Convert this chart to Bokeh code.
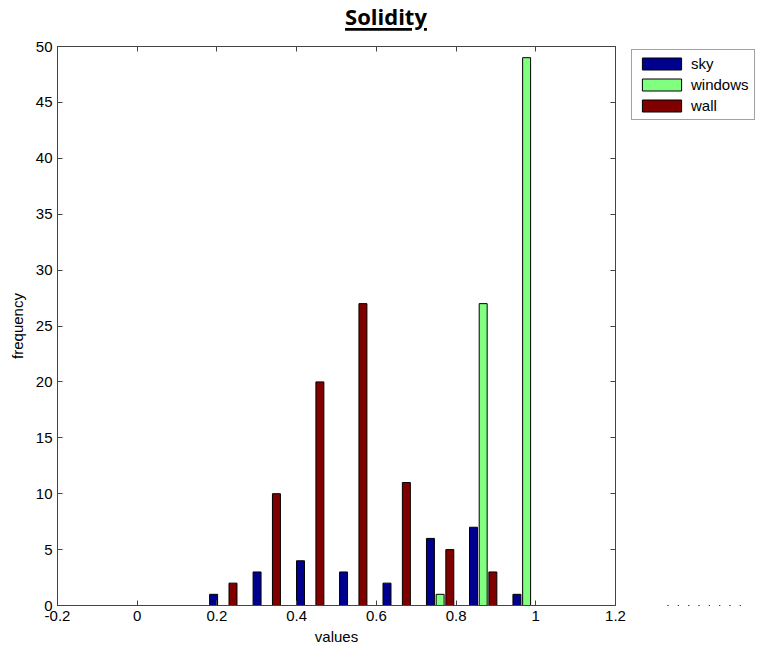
from bokeh.plotting import figure
from bokeh.models import (LinearAxis, FixedTicker, Legend, LegendItem, Div,
                          Range1d, ColumnDataSource)
from bokeh.layouts import column, row
from bokeh.transform import dodge
from bokeh.embed import file_html
from bokeh.resources import INLINE

# ---- data ----
bin_centers = [0.216, 0.325, 0.434, 0.542, 0.651, 0.760, 0.868, 0.977]
sky = [1, 3, 4, 3, 2, 6, 7, 1]
windows = [0, 0, 0, 0, 0, 1, 27, 49]
wall = [2, 10, 20, 27, 11, 5, 3, 0]
series_names = ["sky", "windows", "wall"]
x_ticks = [-0.2, 0, 0.2, 0.4, 0.6, 0.8, 1, 1.2]
x_tick_labels = ["-0.2", "0", "0.2", "0.4", "0.6", "0.8", "1", "1.2"]
y_ticks = [0, 5, 10, 15, 20, 25, 30, 35, 40, 45, 50]
title_text = "Solidity"

colors = ["#00008F", "#80FF80", "#800000"]
offsets = [-0.0243, 0.0, 0.0243]
bar_w = 0.02
AX = "#444444"
FONT = "Liberation Sans"

src = ColumnDataSource(dict(x=bin_centers, sky=sky, windows=windows, wall=wall))

header = Div(text=('<span style="text-decoration: underline; text-decoration-thickness: 2.5px; '
                   'text-underline-offset: 3px;">' + title_text + '</span>'),
             width=761, height=30, margin=0,
             styles={"font-family": "Open Sans", "font-weight": "bold", "font-size": "22px",
                     "color": "black", "text-align": "center", "width": "761px",
                     "padding-left": "11px", "box-sizing": "border-box",
                     "line-height": "22px", "padding-top": "5px"})

p = figure(frame_width=558, frame_height=559, x_range=Range1d(-0.2, 1.2), y_range=Range1d(0, 50),
           output_backend="svg", toolbar_location=None,
           min_border_left=57, min_border_right=13, min_border_top=16, min_border_bottom=45)
p.xgrid.visible = False
p.ygrid.visible = False
p.outline_line_color = AX
p.background_fill_color = "white"
p.border_fill_color = "white"

renderers = []
for name, col, off in zip(series_names, colors, offsets):
    r = p.vbar(x=dodge("x", off), top=name, width=bar_w, bottom=0, source=src,
               fill_color=col, line_color="black", line_width=1)
    renderers.append(r)

def style_axis(ax, ticks, labels=True):
    ax.ticker = FixedTicker(ticks=ticks)
    ax.major_tick_in = 5
    ax.major_tick_out = 0
    ax.minor_tick_line_color = None
    ax.axis_line_color = AX
    ax.major_tick_line_color = AX
    ax.major_label_text_font = FONT
    if labels:
        ax.major_label_text_font_size = "15px"
        ax.major_label_text_color = "black"
    else:
        ax.major_label_text_font_size = "1px"
        ax.major_label_text_color = None
        ax.major_label_standoff = 0

xa = p.xaxis[0]
style_axis(xa, x_ticks)
xa.major_label_overrides = {t: l for t, l in zip(x_ticks, x_tick_labels)}
xa.major_label_standoff = 5
xa.axis_label = "values"
xa.axis_label_text_font = FONT
xa.axis_label_text_font_size = "15px"
xa.axis_label_text_font_style = "normal"
xa.axis_label_text_color = "black"
xa.axis_label_standoff = 4

ya = p.yaxis[0]
style_axis(ya, y_ticks)
ya.major_label_standoff = 5
ya.axis_label = "frequency"
ya.axis_label_text_font = FONT
ya.axis_label_text_font_size = "15px"
ya.axis_label_text_font_style = "normal"
ya.axis_label_text_color = "black"
ya.axis_label_standoff = 7

top_ax = LinearAxis()
style_axis(top_ax, x_ticks, labels=False)
p.add_layout(top_ax, "above")

right_ax = LinearAxis()
style_axis(right_ax, y_ticks, labels=False)
p.add_layout(right_ax, "right")

# legend lives in a small companion figure to the right of the axes box;
# its renderers have zero width and lie outside its range: they only supply the swatches
pl = figure(width=133, height=620, x_range=Range1d(-0.2, 1.2), y_range=Range1d(100, 101),
            output_backend="svg", toolbar_location=None,
            x_axis_location=None, y_axis_location=None,
            min_border_left=0, min_border_right=0, min_border_top=0, min_border_bottom=0)
pl.xgrid.visible = False
pl.ygrid.visible = False
pl.outline_line_color = None
pl.background_fill_color = "white"
pl.border_fill_color = "white"
leg_renderers = []
for name, col in zip(series_names, colors):
    r = pl.vbar(x="x", top=name, width=0, bottom=0, source=src,
                fill_color=col, line_color="black", line_width=1)
    leg_renderers.append(r)

legend = Legend(items=[LegendItem(label=n, renderers=[r]) for n, r in zip(series_names, leg_renderers)],
                location="top_left", glyph_width=49, glyph_height=15, label_height=15,
                spacing=4, padding=5, label_standoff=5, margin=3,
                label_text_font=FONT, label_text_font_size="15px", label_text_color="black",
                border_line_color="#444444", border_line_width=1, background_fill_color="white")
pl.add_layout(legend, "center")

layout = column(header, row(p, pl, spacing=0), spacing=0)
open("out.html", "w").write(file_html(layout, INLINE))
